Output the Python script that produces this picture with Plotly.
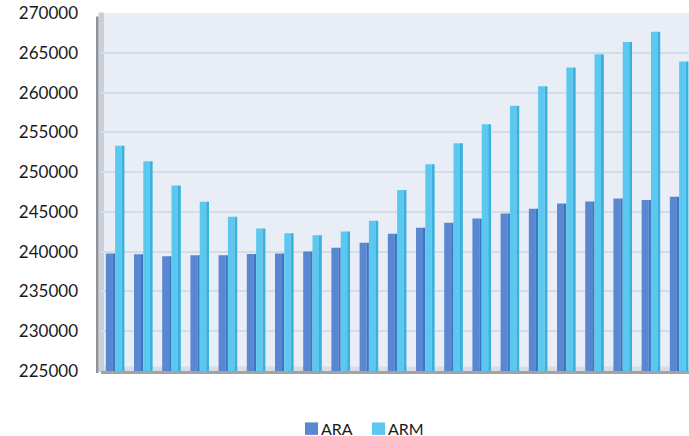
import plotly.graph_objects as go

# Periods (no tick labels are printed on the category axis)
periods = list(range(21))

ara = [239780, 239660, 239410, 239535, 239535, 239700, 239780, 240030, 240490, 241120,
       242250, 243000, 243630, 244180, 244810, 245390, 246060, 246310, 246690, 246500,
       246900]
arm = [253300, 251380, 248330, 246270, 244380, 242920, 242300, 242050, 242550, 243880,
       247740, 251000, 253640, 256030, 258330, 260800, 263160, 264820, 266370, 267630,
       263910]

series_names = ["ARA", "ARM"]
y_ticks = list(range(225000, 270001, 5000))

W, H = 689, 436
ML, MR, MT, MB = 101, 0, 12.5, 65
PW = W - ML - MR
PH = H - MT - MB


def px_x(p):
    return (p - ML) / PW


def px_y(p):
    return (H - MB - p) / PH


ARA_FRONT, ARA_SIDE = "#5A87D2", "#3A76C2"
ARM_FRONT, ARM_SIDE = "#5DC8EF", "#3AB1DD"

fig = go.Figure()
# each bar is a front face plus a narrow darker side face for a 3D look
fig.add_trace(go.Bar(x=periods, y=ara, name=series_names[0], marker_color=ARA_FRONT,
                     offset=-0.33, width=0.25, marker_line_width=0))
fig.add_trace(go.Bar(x=periods, y=ara, name=series_names[0], marker_color=ARA_SIDE,
                     offset=-0.082, width=0.082, marker_line_width=0))
fig.add_trace(go.Bar(x=periods, y=arm, name=series_names[1], marker_color=ARM_FRONT,
                     offset=0.0, width=0.23, marker_line_width=0))
fig.add_trace(go.Bar(x=periods, y=arm, name=series_names[1], marker_color=ARM_SIDE,
                     offset=0.23, width=0.1, marker_line_width=0))

shapes = [
    # floor band
    dict(type="rect", xref="paper", yref="paper", layer="below",
         x0=px_x(99), x1=1, y0=px_y(371), y1=px_y(366.5),
         fillcolor="#D9DCE2", line_width=0),
    # side wall
    dict(type="rect", xref="paper", yref="paper", layer="below",
         x0=px_x(98.5), x1=px_x(104), y0=px_y(372), y1=px_y(12),
         fillcolor="#CBD0D8", line_width=0),
    dict(type="rect", xref="paper", yref="paper", layer="above",
         x0=px_x(96), x1=px_x(98.5), y0=px_y(373), y1=px_y(16),
         fillcolor="#8E9298", line_width=0),
]

# legend below the plot: colour swatch followed by the series name
annotations = []
legend_items = [(series_names[0], ARA_FRONT, 305), (series_names[1], ARM_FRONT, 372)]
for name, color, left in legend_items:
    shapes.append(dict(type="rect", xref="paper", yref="paper", layer="above",
                       x0=px_x(left), x1=px_x(left + 13),
                       y0=px_y(435), y1=px_y(422.5),
                       fillcolor=color, line_width=0))
    annotations.append(dict(text=name, xref="paper", yref="paper",
                            x=px_x(left + 14.5), y=px_y(428.3),
                            xanchor="left", yanchor="middle", showarrow=False,
                            height=14, valign="middle", borderpad=0,
                            font=dict(family="Lato", size=16, color="#1a1a1a")))

fig.update_layout(
    width=W, height=H,
    margin=dict(l=ML, r=MR, t=MT, b=MB),
    paper_bgcolor="white",
    plot_bgcolor="#E9EEF6",
    barmode="overlay",
    font=dict(family="Lato", size=17, color="#1a1a1a"),
    shapes=shapes,
    annotations=annotations,
    showlegend=False,
)
fig.update_xaxes(range=[-0.5, 20.35], showticklabels=False, showgrid=False,
                 zeroline=False, showline=True, linecolor="#A3A3A3", linewidth=2.5,
                 ticks="")
fig.update_yaxes(range=[225000, 270000], tickvals=y_ticks, tickformat="d",
                 showgrid=True, gridcolor="#D3DCE9", gridwidth=1.5,
                 zeroline=False, showline=False, ticks="", ticklabelstandoff=22)

fig.write_html("out.html")
